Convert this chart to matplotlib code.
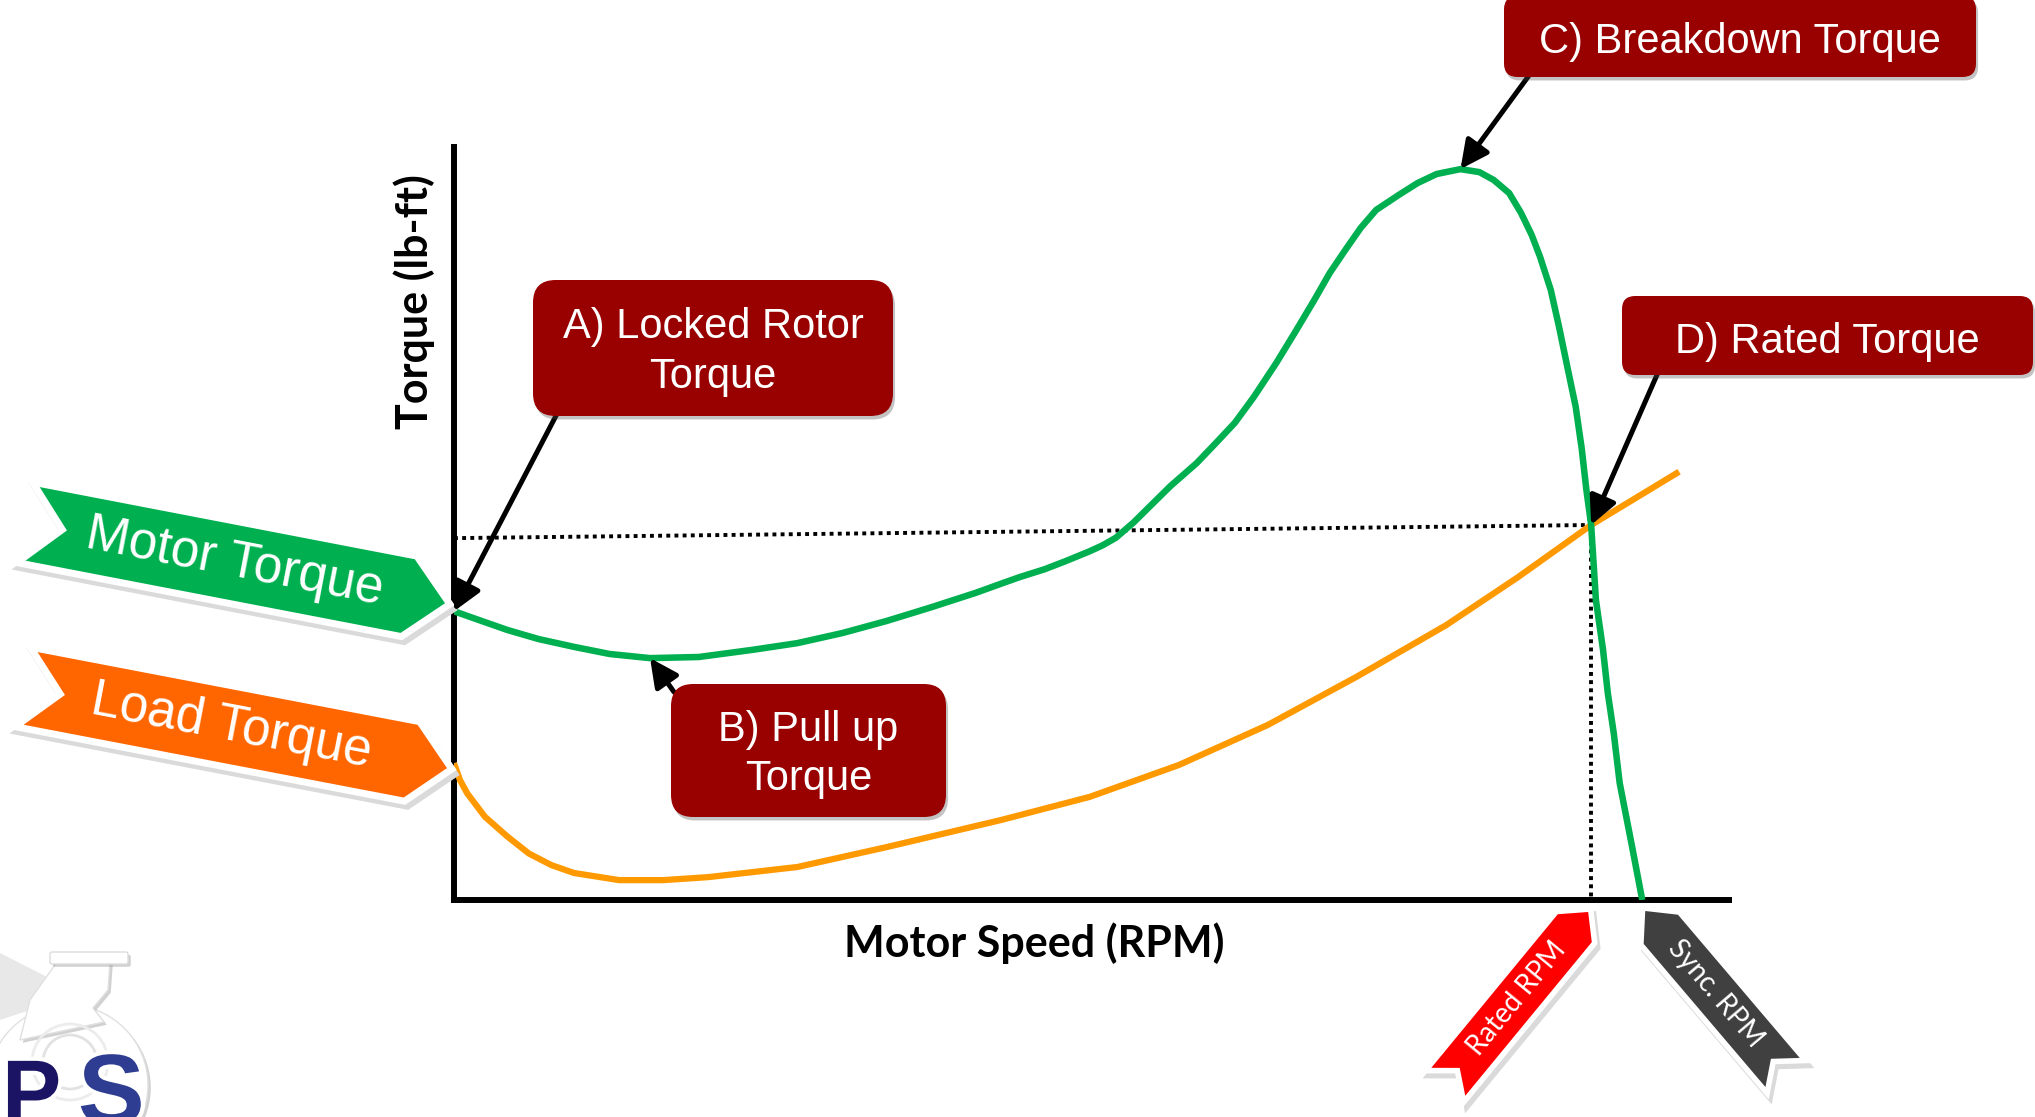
import numpy as np
import matplotlib.pyplot as plt
import matplotlib.patheffects as pe
from matplotlib.patches import Polygon, FancyBboxPatch, Circle

# Induction motor speed-torque curve against a pump load.
# Speed in % of synchronous speed, torque in % of rated torque.
motor_speed = [0, 2.6, 4.5, 7.1, 10.1, 13.1, 16.5, 20.6, 25.1, 28.9,
               32.7, 36.4, 40.2, 43.9, 46.0, 47.6, 49.7, 51.5, 53.5, 54.6,
               55.7, 57.2, 58.7, 60.3, 62.5, 64.1, 65.7, 67.3, 69.2, 70.8,
               72.4, 73.7, 75.0, 76.3, 77.6, 79.5, 81.1, 82.7, 84.7, 86.3,
               87.5, 88.8, 89.8, 90.7, 91.4, 92.3, 93.0, 93.7, 94.4, 94.9,
               95.3, 95.7, 96.1, 96.7, 97.1, 97.6, 98.1, 99.2, 100.0]
motor_torque = [77.0, 74.1, 72.0, 69.6, 67.5, 65.6, 64.5, 64.8, 66.7, 68.5,
                71.2, 74.4, 78.1, 81.9, 84.3, 86.1, 88.2, 90.4, 93.0, 94.6,
                96.6, 100.7, 105.4, 110.4, 116.5, 121.8, 127.2, 134.1, 143.2, 151.5,
                160.0, 167.2, 173.3, 179.2, 184.0, 188.0, 191.2, 193.6, 194.9, 194.1,
                192.0, 188.5, 183.2, 177.3, 171.5, 162.7, 152.8, 142.1, 131.5, 120.5,
                109.3, 100.0, 80.0, 66.7, 55.2, 44.5, 31.2, 13.3, 0.0]

load_speed = [0, 0.5, 1.1, 2.6, 4.5, 6.3, 8.2, 10.1, 13.9, 17.6, 21.4, 28.9,
              36.4, 46.0, 53.5, 61.0, 68.5, 76.0, 83.5, 89.5, 95.7, 103.1]
load_torque = [36.5, 32.0, 28.5, 22.2, 16.9, 12.4, 9.3, 7.2, 5.3, 5.3, 6.1, 8.8,
               14.1, 21.3, 27.5, 36.0, 46.7, 59.6, 73.3, 86.0, 100.0, 114.2]

rated_speed = 95.7
rated_torque = 100.0
sync_speed = 100.0
guide_start_torque = 96.5   # left end of the dotted rated-torque guide

callout_labels = ["A) Locked Rotor\nTorque", "B) Pull up\nTorque",
                  "C) Breakdown Torque", "D) Rated Torque"]

GREEN = "#00B050"
ORANGE = "#FF9900"
BANNER_ORANGE = "#FF6600"
DARK_RED = "#990000"

W, H = 2035, 1117
fig = plt.figure(figsize=(W / 100, H / 100), dpi=100)

ax = fig.add_axes([454 / W, 1 - 900 / H, 1275 / W, 753 / H])
ax.set_xlim(0, 107.3)
ax.set_ylim(0, 200.8)
ax.set_xticks([])
ax.set_yticks([])
ax.patch.set_visible(False)
for side in ("top", "right"):
    ax.spines[side].set_visible(False)
for side in ("left", "bottom"):
    ax.spines[side].set_linewidth(4.3)

ax.plot([0, rated_speed], [guide_start_torque, rated_torque], color="black",
        lw=2.8, ls=(0, (1, 1.1)), zorder=2)
ax.plot([rated_speed, rated_speed], [rated_torque, 0], color="black",
        lw=2.8, ls=(0, (1, 1.1)), zorder=2)
ax.plot(load_speed, load_torque, color=ORANGE, lw=4.5, solid_joinstyle="round",
        solid_capstyle="butt", zorder=3)
ax.plot(motor_speed, motor_torque, color=GREEN, lw=4.7, solid_joinstyle="round",
        solid_capstyle="butt", zorder=4)

# overlay in pixel units (y down) for labels, banners and callouts
ov = fig.add_axes([0, 0, 1, 1], zorder=5)
ov.set_xlim(0, W)
ov.set_ylim(H, 0)
ov.set_axis_off()


def to_px(x, y):
    return ov.transData.inverted().transform(ax.transData.transform((x, y)))


ov.text(1034, 943, "Motor Speed (RPM)", ha="center", va="center",
        fontsize=31, family="Lato", fontweight="bold")
ov.text(414, 302, "Torque (lb-ft)", ha="center", va="center", rotation=90,
        fontsize=31, family="Lato", fontweight="bold")


def ribbon(tip, direction, length, width, head, notch):
    d = np.asarray(direction, float)
    d /= np.hypot(*d)
    n = np.array([-d[1], d[0]])
    hw = width / 2
    return np.array([tip, tip + head * d + hw * n, tip + length * d + hw * n,
                     tip + (length - notch) * d, tip + length * d - hw * n,
                     tip + head * d - hw * n]), d


def draw_ribbon(anchor, offset, direction, length, width, head, notch, color,
                label, size, family, text_at, read_back, border=10):
    tip = np.asarray(anchor) + np.asarray(offset)
    pts, d = ribbon(tip, direction, length, width, head, notch)
    ov.add_patch(Polygon(pts + (3, 5), closed=True, fc="#dadada", ec="#dadada",
                         lw=border, joinstyle="miter", zorder=1))
    ov.add_patch(Polygon(pts, closed=True, fc="white", ec="white", lw=border,
                         joinstyle="miter", zorder=2))
    ov.add_patch(Polygon(pts, closed=True, fc=color, ec="none", zorder=3))
    read = -d if read_back else d
    angle = np.degrees(np.arctan2(-read[1], read[0]))
    cx, cy = tip + text_at * d
    ov.text(cx, cy, label, color="white", fontsize=size, family=family,
            rotation=angle, rotation_mode="anchor", ha="center", va="center", zorder=4)


# series banners pointing at the start of each curve
draw_ribbon(to_px(motor_speed[0], motor_torque[0]), (-9, -8), (-0.982, -0.189),
            420, 75, 38, 35, GREEN, "Motor Torque", 37, "Liberation Sans", 214, True)
draw_ribbon(to_px(load_speed[0], load_torque[0]), (-7, 5), (-0.982, -0.188),
            424, 74, 37, 35, BANNER_ORANGE, "Load Torque", 37, "Liberation Sans", 220, True)

# speed markers under the x axis
draw_ribbon(to_px(rated_speed, 0), (-3, 12), (-0.636, 0.772),
            220, 44, 21, 18, "#FF0000", "Rated RPM", 20, "Lato", 112, True, border=8)
draw_ribbon(to_px(sync_speed, 0), (3, 11), (0.648, 0.762),
            212, 45, 24, 18, "#404040", "Sync. RPM", 20, "Lato", 108, False, border=8)

# callouts: box (left, top, right, bottom) and arrow start, in pixels
i_pu = int(np.argmin(motor_torque[:20]))
i_bd = int(np.argmax(motor_torque))
targets = [(motor_speed[0], motor_torque[0]),
           (motor_speed[i_pu], motor_torque[i_pu]),
           (motor_speed[i_bd], motor_torque[i_bd]),
           (rated_speed, rated_torque)]
boxes = [(533, 280, 893, 416), (671, 684, 946, 817),
         (1504, -4, 1976, 77), (1622, 296, 2033, 375)]
arrow_starts = [(559, 410), (674, 692), (1533, 70), (1660, 368)]

for label, (x0, y0, x1, y1), start, target in zip(callout_labels, boxes, arrow_starts, targets):
    ov.annotate("", xy=to_px(*target), xytext=start, zorder=6,
                arrowprops=dict(arrowstyle="-|>,head_length=0.85,head_width=0.42",
                                mutation_scale=20, color="black", lw=3.6,
                                shrinkA=0, shrinkB=0))
    r = 0.167 * min(x1 - x0, y1 - y0)
    box = FancyBboxPatch((x0, y0), x1 - x0, y1 - y0,
                         boxstyle=f"round,pad=0,rounding_size={r:.1f}",
                         fc=DARK_RED, ec="none", zorder=7)
    box.set_path_effects([pe.SimplePatchShadow(offset=(1.5, -2.5), shadow_rgbFace="#555555",
                                               alpha=0.35), pe.Normal()])
    ov.add_patch(box)
    nudge = 4 if "\n" in label else 6
    ov.text((x0 + x1) / 2, (y0 + y1) / 2 + nudge, label, color="white", fontsize=30,
            family="Liberation Sans", ha="center", va="center", multialignment="center",
            linespacing=1.32, zorder=8)

# company logo in the corner
shade = [pe.SimplePatchShadow(offset=(2, -2), shadow_rgbFace="#9a9a9a", alpha=0.45), pe.Normal()]
ov.add_patch(Polygon([(0, 953), (53, 980), (30, 1010), (0, 1020)], closed=True,
                     fc="#e8e8e8", ec="none", zorder=1))
volute = Circle((68, 1085), 80, fc="white", ec="#e0e0e0", lw=1, zorder=2)
volute.set_path_effects(shade)
ov.add_patch(volute)
neck = Polygon([(57, 962), (110, 962), (108, 990), (93, 1008), (104, 1022),
                (20, 1040), (30, 1000)], closed=True, fc="white", ec="#e0e0e0", lw=1, zorder=2)
neck.set_path_effects(shade)
ov.add_patch(neck)
flange = FancyBboxPatch((50, 952), 78, 12, boxstyle="round,pad=0,rounding_size=2",
                        fc="white", ec="#dcdcdc", lw=1, zorder=2)
flange.set_path_effects(shade)
ov.add_patch(flange)
ov.add_patch(Circle((70, 1062), 38, fc="none", ec="#ececec", lw=2, zorder=2))
ov.add_patch(Circle((70, 1062), 27, fc="none", ec="#e2e2e2", lw=2, zorder=2))
outline = [pe.withStroke(linewidth=6, foreground="white")]
ov.text(2, 1122, "P", color="#1B1464", fontsize=64, fontweight="bold",
        family="Liberation Sans", va="baseline", ha="left", zorder=3, path_effects=outline)
ov.text(78, 1124, "S", color="#2E3D91", fontsize=72, fontweight="bold",
        family="Liberation Sans", va="baseline", ha="left", zorder=3, path_effects=outline)

fig.savefig("out.png", dpi=100)
